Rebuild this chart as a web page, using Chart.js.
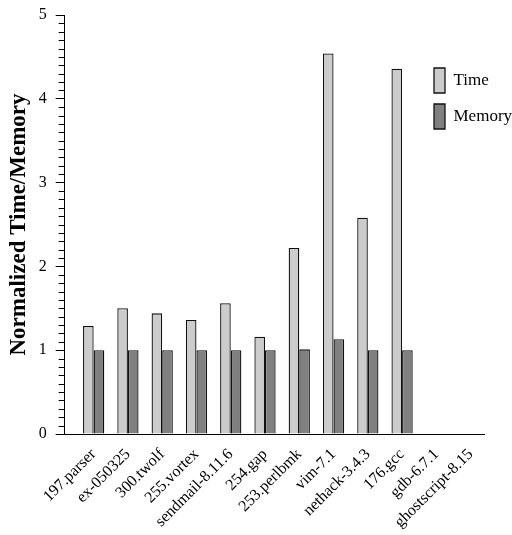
<!DOCTYPE html>
<html>
<head>
<meta charset="utf-8">
<script src="https://cdn.jsdelivr.net/npm/chart.js@4.4.1/dist/chart.umd.min.js"></script>
<style>
    html, body { margin: 0; padding: 0; background: #fff; }
    #wrap { width: 512px; height: 535px; }
</style>
</head>
<body>
<div id="wrap"><canvas id="chart-area"></canvas></div>
<script>
var programs = ["197.parser", "ex-050325", "300.twolf", "255.vortex", "sendmail-8.11.6", "254.gap",
    "253.perlbmk", "vim-7.1", "nethack-3.4.3", "176.gcc", "gdb-6.7.1", "ghostscript-8.15"];
var timeValues = [1.29, 1.50, 1.44, 1.36, 1.56, 1.16, 2.22, 4.54, 2.58, 4.36, 0, 0];
var memoryValues = [1.00, 1.00, 1.00, 1.00, 1.00, 1.00, 1.01, 1.13, 1.00, 1.00, 0, 0];
var yTicks = [0, 1, 2, 3, 4, 5];

var serif = "'Liberation Serif', 'DejaVu Serif', serif";

// minor ticks every 0.1 on the y axis
var minorTicks = {
    id: 'minorTicks',
    afterDraw: function (chart) {
        var y = chart.scales.y, ctx = chart.ctx;
        ctx.save();
        ctx.strokeStyle = '#000';
        ctx.lineWidth = 1;
        for (var i = 1; i < 50; i++) {
            if (i % 10 === 0) continue;
            var py = Math.round(y.getPixelForValue(i / 10)) + 0.5;
            ctx.beginPath();
            ctx.moveTo(y.right - 6, py);
            ctx.lineTo(y.right, py);
            ctx.stroke();
        }
        ctx.restore();
    }
};

// put the legend in the upper right corner, inside the plot
var moveLegend = {
    id: 'moveLegend',
    afterLayout: function (chart) {
        var lg = chart.legend;
        var w = lg.width, h = lg.height;
        lg.left = 423;
        lg.top = 57;
        lg.right = lg.left + w;
        lg.bottom = lg.top + h;
    }
};

var config = {
    type: 'bar',
    data: {
        datasets: [{
            label: 'Time',
            data: timeValues.map(function (v, i) { return {x: i, y: v}; }),
            backgroundColor: '#cccccc',
            borderColor: '#111',
            borderWidth: 1.3
        }, {
            label: 'Memory',
            data: memoryValues.map(function (v, i) { return {x: i, y: v}; }),
            backgroundColor: '#808080',
            borderColor: '#111',
            borderWidth: 1.3
        }]
    },
    options: {
        responsive: true,
        maintainAspectRatio: false,
        animation: false,
        categoryPercentage: 0.62,
        barPercentage: 1.0,
        layout: {
            padding: {top: 15, right: 28, left: 0, bottom: 0}
        },
        plugins: {
            tooltip: {enabled: false},
            legend: {
                position: 'chartArea',
                align: 'start',
                labels: {
                    boxWidth: 11,
                    boxHeight: 25,
                    padding: 11,
                    color: '#000',
                    font: {family: serif, size: 17}
                }
            }
        },
        scales: {
            x: {
                type: 'linear',
                bounds: 'data',
                offset: false,
                min: -0.845,
                max: 11.39,
                afterFit: function (s) { s.height = 101; },
                afterBuildTicks: function (s) {
                    s.ticks = programs.map(function (p, i) { return {value: i}; });
                },
                grid: {display: true, offset: false, drawOnChartArea: false, drawTicks: false},
                border: {display: true, color: '#000', width: 1},
                ticks: {
                    autoSkip: false,
                    minRotation: 45,
                    maxRotation: 45,
                    padding: 11,
                    color: '#000',
                    font: {family: serif, size: 16},
                    callback: function (v) { return programs[v]; }
                }
            },
            y: {
                min: 0,
                max: 5,
                afterFit: function (s) {
                    s.width = 64.7;
                    s.paddingTop = 0;
                    s.paddingBottom = 0;
                },
                afterBuildTicks: function (s) {
                    s.ticks = yTicks.map(function (t) { return {value: t}; });
                },
                grid: {drawOnChartArea: false, tickLength: 9, tickColor: '#000'},
                border: {display: true, color: '#000', width: 1},
                ticks: {
                    padding: 9,
                    color: '#000',
                    font: {family: serif, size: 16}
                },
                title: {
                    display: true,
                    text: 'Normalized Time/Memory',
                    color: '#000',
                    padding: {top: 5, bottom: 0},
                    font: {family: serif, size: 23, weight: 'bold'}
                }
            }
        }
    },
    plugins: [minorTicks, moveLegend]
};

var ctx = document.getElementById("chart-area").getContext("2d");
window.myBar = new Chart(ctx, config);
</script>
</body>
</html>
